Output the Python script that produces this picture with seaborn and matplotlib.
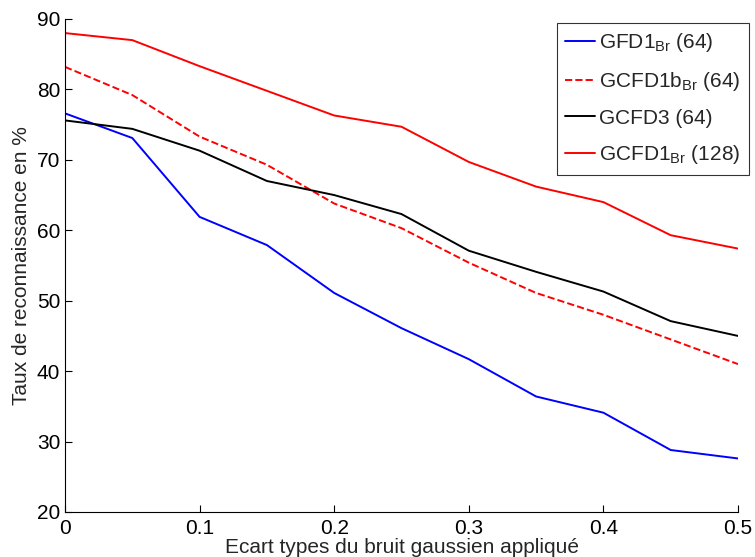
import matplotlib
matplotlib.use("Agg")
import matplotlib.pyplot as plt
import seaborn as sns
import pandas as pd

sns.set_theme(style="white")
plt.rcParams['font.family'] = ['Liberation Sans', 'DejaVu Sans']
plt.rcParams['mathtext.fontset'] = 'custom'
plt.rcParams['mathtext.rm'] = 'Liberation Sans'
plt.rcParams['mathtext.it'] = 'Liberation Sans'

sigma = [0, 0.05, 0.1, 0.15, 0.2, 0.25, 0.3, 0.35, 0.4, 0.45, 0.5]
gfd1_64 = [76.6, 73.1, 61.9, 57.9, 51.1, 46.1, 41.7, 36.4, 34.1, 28.8, 27.6]
gcfd1b_64 = [83.2, 79.2, 73.3, 69.3, 63.8, 60.3, 55.4, 51.1, 48.0, 44.5, 41.0]
gcfd3_64 = [75.6, 74.4, 71.3, 67.0, 65.0, 62.3, 57.1, 54.1, 51.3, 47.1, 45.0]
gcfd1_128 = [88.0, 87.0, 83.3, 79.8, 76.3, 74.7, 69.7, 66.2, 64.0, 59.3, 57.4]

labels = [r'GFD1$_{\mathrm{Br}}$ (64)', r'GCFD1b$_{\mathrm{Br}}$ (64)',
          'GCFD3 (64)', r'GCFD1$_{\mathrm{Br}}$ (128)']
series = [gfd1_64, gcfd1b_64, gcfd3_64, gcfd1_128]
colors = ['#0000ff', '#ff0000', '#000000', '#ff0000']
styles = ['-', '--', '-', '-']

FS = 15

fig = plt.figure(figsize=(7.55, 5.57), dpi=100)
ax = fig.add_axes([0.0861, 0.0808, 0.8914, 0.8851])

for vals, lab, c, ls in zip(series, labels, colors, styles):
    df = pd.DataFrame({'x': sigma, 'y': vals})
    sns.lineplot(data=df, x='x', y='y', ax=ax, color=c, linestyle=ls,
                 linewidth=1.4, label=lab)

ax.set_xlim(0, 0.5)
ax.set_ylim(20, 90)
ax.set_xticks([0, 0.1, 0.2, 0.3, 0.4, 0.5])
ax.set_xticklabels(['0', '0.1', '0.2', '0.3', '0.4', '0.5'])
ax.set_yticks([20, 30, 40, 50, 60, 70, 80, 90])
ax.tick_params(axis='both', direction='in', length=5, width=0.8,
               labelsize=FS, colors='black', bottom=True, left=True)
ax.tick_params(axis='x', pad=5)
ax.tick_params(axis='y', pad=3.5)
ax.set_xlabel('Ecart types du bruit gaussien appliqué', fontsize=FS, labelpad=0)
ax.set_ylabel('Taux de reconnaissance en %', fontsize=FS, labelpad=4)
for s in ['top', 'right']:
    ax.spines[s].set_visible(False)
for s in ['left', 'bottom']:
    ax.spines[s].set_color('black')
    ax.spines[s].set_linewidth(0.8)

leg = ax.legend(loc='upper right', fontsize=FS, frameon=True, fancybox=False,
                edgecolor='black', handlelength=1.45, handletextpad=0.2,
                borderaxespad=0, labelspacing=0.75, borderpad=0.4,
                bbox_to_anchor=(749 / 755, 1 - 23 / 557),
                bbox_transform=fig.transFigure)
leg.get_frame().set_linewidth(0.8)

fig.savefig('out.png', dpi=100)
